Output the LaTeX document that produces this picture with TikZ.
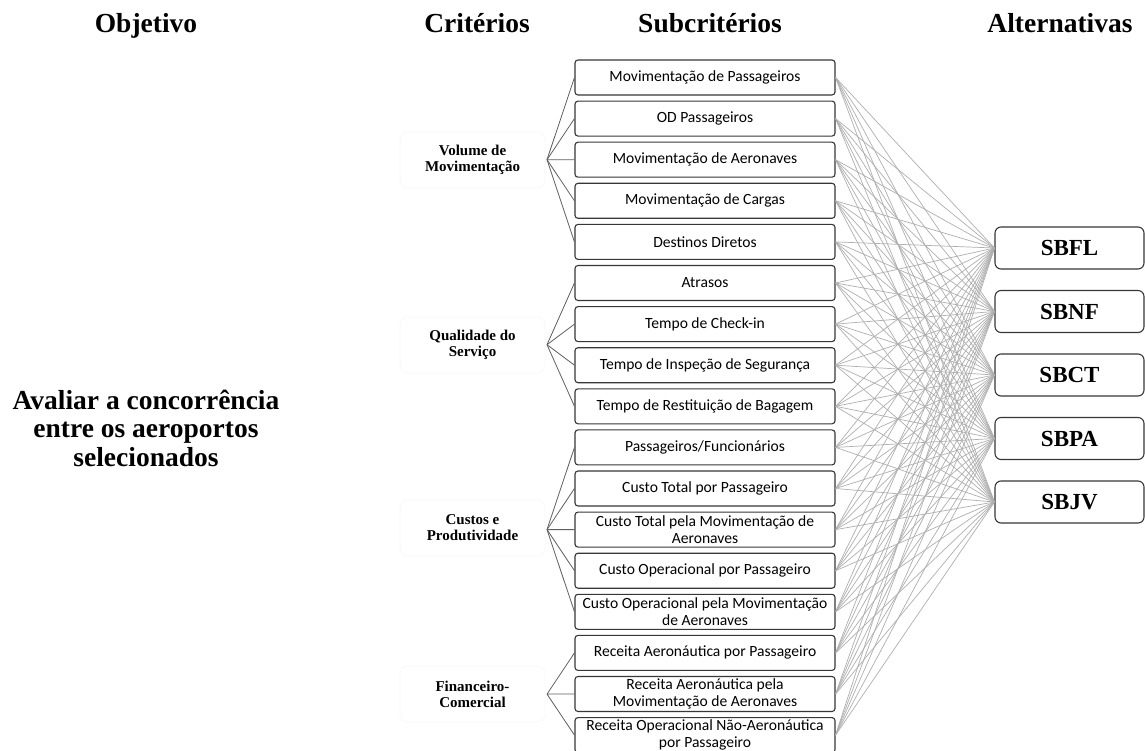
\documentclass[tikz,border=0pt]{standalone}
\usepackage{fontspec}
\setmainfont{Liberation Serif}
\newfontfamily\calib{Carlito}
\definecolor{boxc}{RGB}{55,55,55}
\definecolor{linkc}{RGB}{175,175,175}
\definecolor{fanc}{RGB}{95,95,95}
\definecolor{faintc}{RGB}{248,248,248}
\begin{document}
\begin{tikzpicture}[x=1pt,y=-1pt,
  hdr/.style={anchor=base,font=\bfseries\fontsize{27.5}{28.5}\selectfont},
  sub/.style={draw=boxc,line width=1.1pt,rounded corners=3pt,minimum width=260pt,minimum height=35pt,inner sep=0pt,align=center,font=\calib\fontsize{15.6}{17}\selectfont},
  alt/.style={draw=boxc,line width=1.1pt,rounded corners=6pt,minimum width=149pt,minimum height=42pt,inner sep=0pt,font=\bfseries\fontsize{23}{23}\selectfont},
  crit/.style={draw=faintc,line width=0.6pt,rounded corners=8pt,minimum width=145pt,minimum height=56pt,inner sep=0pt,align=center,font=\bfseries\fontsize{15}{16}\selectfont},
  link/.style={draw=linkc,line width=0.7pt},
  fan/.style={draw=fanc,line width=0.8pt}]
\useasboundingbox (0,0) rectangle (1145,751);
\fill[white] (0,0) rectangle (1145,751);
% headers
\node[hdr] (h1) at (146,33) {Objetivo};
\node[hdr] (h2) at (477,33) {Critérios};
\node[hdr] (h3) at (710,33) {Subcritérios};
\node[hdr] (h4) at (1060,33) {Alternativas};
% objective
\node[font=\bfseries\fontsize{27.5}{28.5}\selectfont,align=center] (obj) at (146,428) {Avaliar a concorrência\\entre os aeroportos\\selecionados};
% subcriteria
\foreach \i/\t in {0/{Movimentação de Passageiros},1/{OD Passageiros},2/{Movimentação de Aeronaves},3/{Movimentação de Cargas},4/{Destinos Diretos},5/{Atrasos},6/{Tempo de Check-in},7/{Tempo de Inspeção de Segurança},8/{Tempo de Restituição de Bagagem},9/{Passageiros/Funcionários},10/{Custo Total por Passageiro},11/{Custo Total pela Movimentação de\\Aeronaves},12/{Custo Operacional por Passageiro},13/{Custo Operacional pela Movimentação\\de Aeronaves},14/{Receita Aeronáutica por Passageiro},15/{Receita Aeronáutica pela\\Movimentação de Aeronaves},16/{Receita Operacional Não-Aeronáutica\\por Passageiro}}
  \node[sub] (s\i) at (705,77.5+41.1*\i) {\t};
% alternatives
\foreach \j/\t in {0/SBFL,1/SBNF,2/SBCT,3/SBPA,4/SBJV}
  \node[alt] (a\j) at (1069.5,248+63.5*\j) {\t};
% links
\foreach \i in {0,...,16}
  \foreach \j in {0,...,4}
    \draw[link] (s\i.east) -- (a\j.west);
% criteria
\node[crit] (c1) at (472.5,160) {Volume de\\Movimentação};
\node[crit] (c2) at (472.5,345) {Qualidade do\\Serviço};
\node[crit] (c3) at (472.5,528) {Custos e\\Produtividade};
\node[crit] (c4) at (472.5,694) {Financeiro-\\Comercial};
\coordinate (f1) at (547,159.7);
\coordinate (f2) at (547,344.7);
\coordinate (f3) at (547,529.6);
\coordinate (f4) at (547,694.1);
\foreach \i in {0,...,4} \draw[fan] (f1) -- (s\i.west);
\foreach \i in {5,...,8} \draw[fan] (f2) -- (s\i.west);
\foreach \i in {9,...,13} \draw[fan] (f3) -- (s\i.west);
\foreach \i in {14,...,16} \draw[fan] (f4) -- (s\i.west);
\end{tikzpicture}
\end{document}
